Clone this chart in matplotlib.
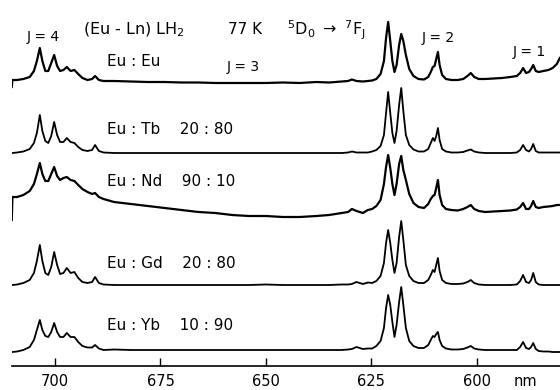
import matplotlib
matplotlib.use("Agg")
import matplotlib.pyplot as plt

# wavelength grid (nm)
wavelength = [
    710.25, 710.1, 709.0, 707.5, 706.0, 705.0, 704.3, 703.6, 703.0, 702.3,
    701.6, 700.9, 700.2, 699.5, 698.8, 698.0, 697.2, 696.3, 695.4, 694.5,
    693.5, 692.3, 691.2, 690.5, 689.6, 688.5, 686.0, 682.0, 678.0, 674.0,
    670.0, 666.0, 662.0, 658.0, 654.0, 650.0, 646.0, 642.0, 638.0, 635.0,
    632.0, 630.5, 629.6, 628.5, 627.0, 625.8, 624.8, 623.8, 622.8, 622.0,
    621.5, 621.0, 620.5, 620.0, 619.5, 619.0, 618.4, 617.9, 617.4, 616.8,
    616.0, 615.0, 613.8, 612.5, 611.5, 610.9, 610.4, 610.0, 609.6, 609.2,
    608.8, 608.2, 607.3, 606.0, 604.5, 603.2, 602.2, 601.4, 600.6, 599.5,
    598.0, 596.0, 594.0, 592.0, 590.5, 589.7, 589.0, 588.3, 587.6, 587.1,
    586.6, 586.0, 585.3, 584.2, 583.0, 582.0, 581.0, 580.3]

# emission intensity (arb. units) for each sample
eu_eu = [
    -4, 3, 3, 4, 6, 12, 22, 35, 22, 12,
    12, 20, 28, 17, 12, 13, 16, 12, 13, 9,
    5, 3, 4, 7, 3, 2, 2, 1.5, 1, 1,
    0.5, 0.5, 0, 0, 0, 0, 0.5, 0, 1, 0.5,
    1.5, 2, 3.5, 2, 1.5, 2, 2.5, 4, 9, 22,
    45, 61, 42, 22, 11, 18, 38, 49, 42, 28,
    14, 7, 4, 3.5, 6, 11, 16, 17, 24, 31,
    18, 8, 4, 3, 3, 4, 7, 10, 6, 4,
    4, 4.5, 5, 6, 7, 10, 15, 10, 11, 14,
    18, 12, 11, 12, 13, 15, 19, 25]

eu_tb = [
    0, 0, 0.5, 1.5, 4, 10, 20, 38, 22, 12,
    10, 17, 31, 18, 11, 11, 15, 11, 10, 6,
    3, 2, 3, 8, 2, 0.5, 0, 0, 0, 0,
    0, 0, 0, 0, 0, 0, 0, 0, 0, 0,
    0, 0.5, 1.5, 0.5, 0.5, 0.5, 1.5, 3, 7, 18,
    40, 61, 40, 20, 10, 22, 48, 65, 42, 18,
    8, 3.5, 1.5, 1.5, 4, 10, 15, 12, 17, 25,
    13, 4, 1.5, 0.5, 0.5, 1, 2.5, 3.5, 1.5, 0.5,
    0, 0, 0, 0, 0.5, 3, 8, 3, 1.5, 4,
    9, 2, 0.5, 0.5, 0.5, 0.5, 0.5, 0.5]

eu_nd = [
    -8, 15, 15, 17, 21, 28, 38, 49, 38, 31,
    31, 38, 45, 36, 32, 34, 35, 32, 31, 27,
    23, 20, 18, 19, 15, 13, 10, 8, 6, 4,
    2, 0, -1, -3, -4, -4, -5, -5, -4, -3,
    -1, 0, 3, 1, -1, 2, 3, 6, 12, 28,
    45, 57, 44, 28, 17, 28, 48, 56, 42, 32,
    18, 9, 5, 4, 8, 13, 16, 17, 24, 32,
    17, 7, 3, 2, 1.5, 3, 5, 7, 3, 1,
    0, 0.5, 1, 1.5, 2.5, 5, 9, 3, 3, 6,
    11, 5, 4, 5, 5.5, 6, 7, 7]

eu_gd = [
    0, 0, 0.5, 2, 5, 12, 24, 40, 24, 12,
    10, 18, 33, 20, 11, 12, 17, 12, 13, 7,
    3, 2, 3, 8, 2, 0.5, 0, 0, 0, 0,
    0, 0, 0, 0, 0, 0.5, 0, 0, 0, 0,
    0.5, 0.5, 1, 3, 1, 2.5, 2, 4, 9, 22,
    42, 55, 42, 25, 12, 22, 48, 64, 45, 20,
    9, 4, 2, 2, 5, 10, 15, 13, 20, 27,
    14, 5, 2, 1, 1, 1.5, 3, 5, 2, 0.5,
    0, 0, 0, 0, 0.5, 4, 10, 3, 2, 5,
    12, 3, 0.5, 0, 0, 0, 0, 0]

eu_yb = [
    -2, -2, -1.5, 0, 3, 10, 20, 30, 20, 14,
    13, 18, 27, 18, 13, 13, 17, 13, 13, 8,
    4, 2.5, 2.5, 5, 1.5, 0, 0.5, 0, 0, 0,
    0, 0, 0, 0, 0, 0, 0, 0, 0, 0,
    0, 0.5, 1, 3, 1, 1.5, 1.5, 4, 9, 22,
    42, 55, 45, 28, 13, 25, 48, 63, 45, 22,
    9, 4, 2, 2, 5, 10, 14, 13, 16, 18,
    10, 4, 1.5, 0.5, 0.5, 1, 2.5, 4, 1.5, 0.5,
    0, 0, 0, 0, 0, 3, 8, 2, 1, 3,
    7, 1, -1, -1.5, -1.5, -2, -2, -2]

sample_labels = ["Eu : Eu", "Eu : Tb    20 : 80", "Eu : Nd    90 : 10",
                 "Eu : Gd    20 : 80", "Eu : Yb    10 : 90"]
tick_values = [700, 675, 650, 625, 600]

# stacking of the traces (vertical shift of each baseline)
offsets = [283, 213, 154, 81, 16]
label_y = [305, 236, 184, 103, 40]
widths = [1.6, 1.3, 1.6, 1.3, 1.3]

fig = plt.figure(figsize=(5.6, 3.9), dpi=100)
ax = fig.add_axes([12 / 560, 24 / 390, 548 / 560, 361 / 390])

# plot each spectrum with its offset
series = [eu_eu, eu_tb, eu_nd, eu_gd, eu_yb]
for vals, off, lw in zip(series, offsets, widths):
    ax.plot(wavelength, [v + off for v in vals], color="black", lw=lw,
            solid_joinstyle="round")

# sample labels
for lab, y in zip(sample_labels, label_y):
    ax.text(687.7, y, lab, fontsize=11, va="center", ha="left")

# J labels and title text
ax.text(706.6, 329, "J = 4", fontsize=10, va="center")
ax.text(659.2, 299, "J = 3", fontsize=10, va="center")
ax.text(613.0, 328, "J = 2", fontsize=10, va="center")
ax.text(591.4, 314, "J = 1", fontsize=10, va="center")
ax.text(693.4, 336, r"(Eu - Ln) LH$_2$", fontsize=11.5, va="center")
ax.text(659.0, 336, "77 K", fontsize=11, va="center")
ax.text(645.0, 336, r"$^5$D$_0$ $\rightarrow$ $^7$F$_\mathrm{J}$",
        fontsize=11.5, va="center")
ax.text(588.5, -15, "nm", fontsize=10.5, va="center", ha="center", clip_on=False)

# Format axes
ax.set_xlim(710.2, 580.25)
ax.set_ylim(0, 361)
for s in ["top", "left", "right"]:
    ax.spines[s].set_visible(False)
ax.spines["bottom"].set_linewidth(1.2)
ax.set_yticks([])
ax.set_xticks(tick_values)
ax.set_xticklabels([str(t) for t in tick_values])
ax.tick_params(axis="x", direction="in", length=6, width=1, labelsize=10.5, pad=6)

fig.savefig("out.png", dpi=100)
